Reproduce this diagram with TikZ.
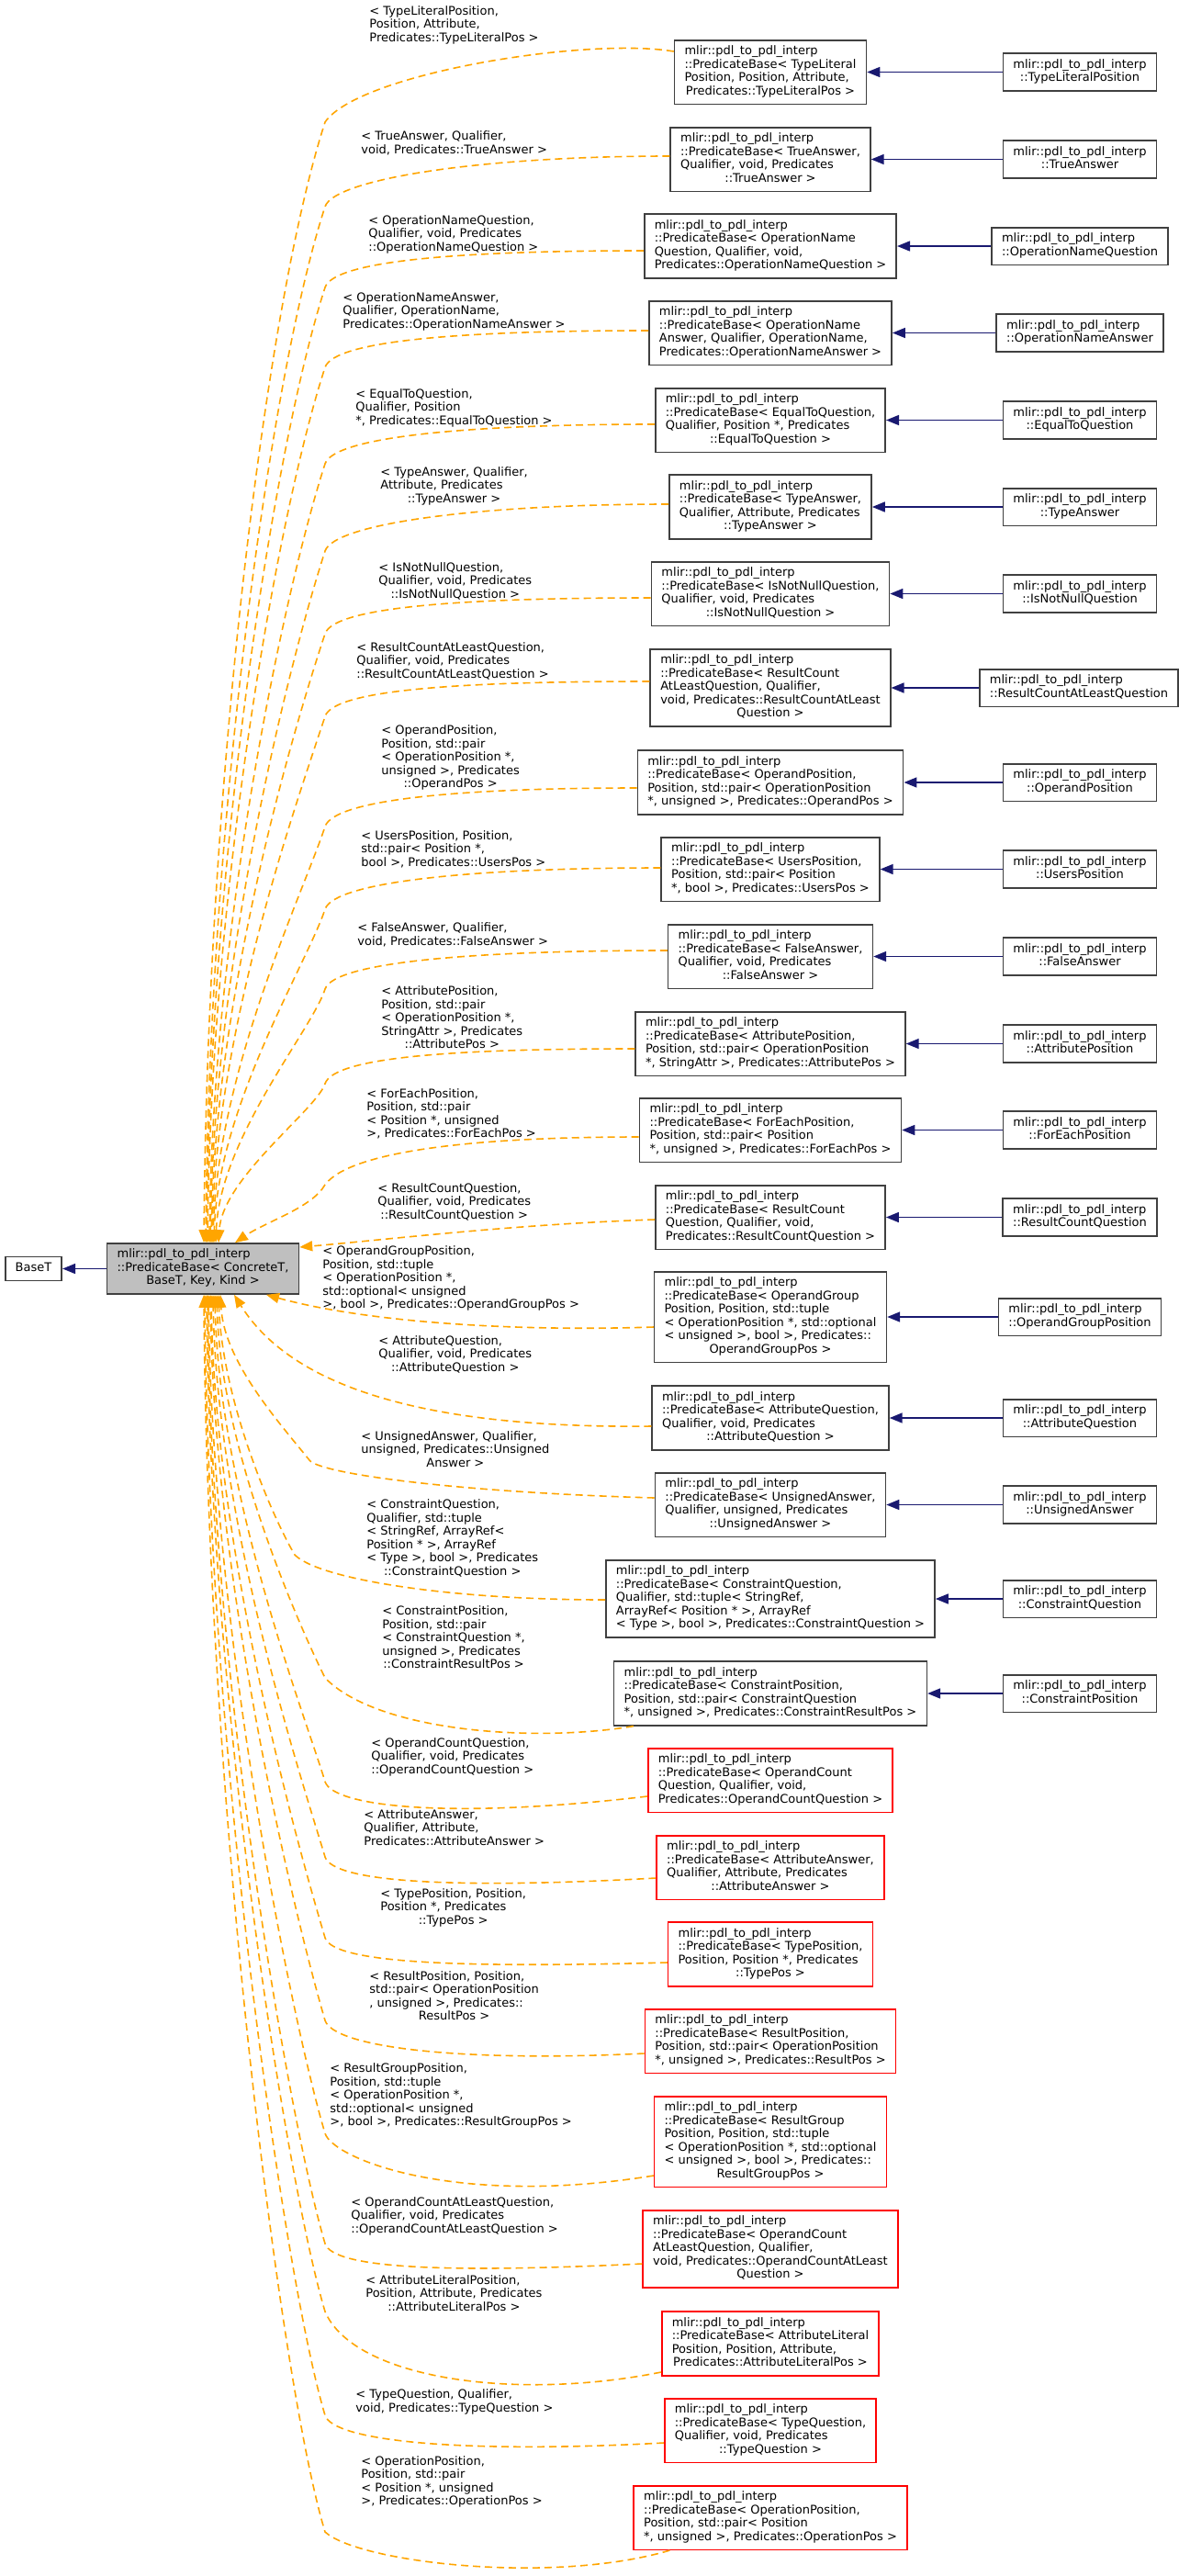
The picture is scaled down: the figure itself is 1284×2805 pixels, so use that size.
\documentclass[tikz,border=0pt]{standalone}
\usepackage{fontspec}
\setmainfont{DejaVu Sans}
\usetikzlibrary{arrows.meta,calc}
\definecolor{inhnavy}{HTML}{191970}
\definecolor{tmplorange}{HTML}{FFA500}
\definecolor{boxgray}{HTML}{404040}
\definecolor{mainfill}{HTML}{BFBFBF}
\definecolor{truncred}{HTML}{FF0000}
\newcommand{\tpl}[2]{\begin{tabular}{@{}l@{}}#1\\\multicolumn{1}{@{}c@{}}{#2}\end{tabular}}
\newcommand{\ns}{mlir::pdl\_to\_pdl\_interp}

\begin{document}
\begin{tikzpicture}[
  x=0.5pt, y=-0.5pt,
  every node/.style={font=\fontsize{6.5}{7.25}\selectfont},
  cbox/.style={draw=boxgray, line width=0.8pt, fill=white, inner xsep=5.5pt, inner ysep=2.9pt},
  rbox/.style={cbox, draw=truncred},
  mbox/.style={cbox, fill=mainfill},
  elbl/.style={anchor=west, inner sep=0pt},
  inh/.style={inhnavy, line width=0.8pt, -{Triangle[length=7pt,width=5.5pt]}},
  tmpl/.style={tmplorange, line width=0.8pt, dash pattern=on 4pt off 2.5pt, -{Triangle[length=7pt,width=5.5pt]}}
]
\useasboundingbox (0,0) rectangle (1284,2805);

% Base class and the class template
\node[cbox] (baset) at (36.5,1381.5) {\begin{tabular}{@{}c@{}}BaseT\end{tabular}};
\node[mbox] (main) at (221,1381.5) {\tpl{\ns\\::PredicateBase< ConcreteT,}{BaseT, Key, Kind >}};
\draw[inh] (main) -- (baset);

% Instantiations with a derived class
\node[cbox] (r1) at (839,78.5) {\tpl{\ns\\::PredicateBase< TypeLiteral\\Position, Position, Attribute,}{Predicates::TypeLiteralPos >}};
\node[cbox] (r2) at (839,173.5) {\tpl{\ns\\::PredicateBase< TrueAnswer,\\Qualifier, void, Predicates}{::TrueAnswer >}};
\node[cbox] (r3) at (839,268) {\tpl{\ns\\::PredicateBase< OperationName\\Question, Qualifier, void,}{Predicates::OperationNameQuestion >}};
\node[cbox] (r4) at (839,362.5) {\tpl{\ns\\::PredicateBase< OperationName\\Answer, Qualifier, OperationName,}{Predicates::OperationNameAnswer >}};
\node[cbox] (r5) at (839,457.5) {\tpl{\ns\\::PredicateBase< EqualToQuestion,\\Qualifier, Position *, Predicates}{::EqualToQuestion >}};
\node[cbox] (r6) at (839,552) {\tpl{\ns\\::PredicateBase< TypeAnswer,\\Qualifier, Attribute, Predicates}{::TypeAnswer >}};
\node[cbox] (r7) at (839,646.5) {\tpl{\ns\\::PredicateBase< IsNotNullQuestion,\\Qualifier, void, Predicates}{::IsNotNullQuestion >}};
\node[cbox] (r8) at (839,749) {\tpl{\ns\\::PredicateBase< ResultCount\\AtLeastQuestion, Qualifier,\\void, Predicates::ResultCountAtLeast}{Question >}};
\node[cbox] (r9) at (839,852) {\tpl{\ns\\::PredicateBase< OperandPosition,\\Position, std::pair< OperationPosition}{*, unsigned >, Predicates::OperandPos >}};
\node[cbox] (r10) at (839,946.5) {\tpl{\ns\\::PredicateBase< UsersPosition,\\Position, std::pair< Position}{*, bool >, Predicates::UsersPos >}};
\node[cbox] (r11) at (839,1041.5) {\tpl{\ns\\::PredicateBase< FalseAnswer,\\Qualifier, void, Predicates}{::FalseAnswer >}};
\node[cbox] (r12) at (839,1136.5) {\tpl{\ns\\::PredicateBase< AttributePosition,\\Position, std::pair< OperationPosition}{*, StringAttr >, Predicates::AttributePos >}};
\node[cbox] (r13) at (839,1230.5) {\tpl{\ns\\::PredicateBase< ForEachPosition,\\Position, std::pair< Position}{*, unsigned >, Predicates::ForEachPos >}};
\node[cbox] (r14) at (839,1325.5) {\tpl{\ns\\::PredicateBase< ResultCount\\Question, Qualifier, void,}{Predicates::ResultCountQuestion >}};
\node[cbox] (r15) at (839,1434) {\tpl{\ns\\::PredicateBase< OperandGroup\\Position, Position, std::tuple\\< OperationPosition *, std::optional\\< unsigned >, bool >, Predicates::}{OperandGroupPos >}};
\node[cbox] (r16) at (839,1544) {\tpl{\ns\\::PredicateBase< AttributeQuestion,\\Qualifier, void, Predicates}{::AttributeQuestion >}};
\node[cbox] (r17) at (839,1638.5) {\tpl{\ns\\::PredicateBase< UnsignedAnswer,\\Qualifier, unsigned, Predicates}{::UnsignedAnswer >}};
\node[cbox] (r18) at (839,1741) {\tpl{\ns\\::PredicateBase< ConstraintQuestion,\\Qualifier, std::tuple< StringRef,\\ArrayRef< Position * >, ArrayRef}{< Type >, bool >, Predicates::ConstraintQuestion >}};
\node[cbox] (r19) at (839,1844) {\tpl{\ns\\::PredicateBase< ConstraintPosition,\\Position, std::pair< ConstraintQuestion}{*, unsigned >, Predicates::ConstraintResultPos >}};

% Instantiations shown without their derived classes
\node[rbox] (r20) at (839,1938.5) {\tpl{\ns\\::PredicateBase< OperandCount\\Question, Qualifier, void,}{Predicates::OperandCountQuestion >}};
\node[rbox] (r21) at (839,2033.5) {\tpl{\ns\\::PredicateBase< AttributeAnswer,\\Qualifier, Attribute, Predicates}{::AttributeAnswer >}};
\node[rbox] (r22) at (839,2128) {\tpl{\ns\\::PredicateBase< TypePosition,\\Position, Position *, Predicates}{::TypePos >}};
\node[rbox] (r23) at (839,2222.5) {\tpl{\ns\\::PredicateBase< ResultPosition,\\Position, std::pair< OperationPosition}{*, unsigned >, Predicates::ResultPos >}};
\node[rbox] (r24) at (839,2332) {\tpl{\ns\\::PredicateBase< ResultGroup\\Position, Position, std::tuple\\< OperationPosition *, std::optional\\< unsigned >, bool >, Predicates::}{ResultGroupPos >}};
\node[rbox] (r25) at (839,2449) {\tpl{\ns\\::PredicateBase< OperandCount\\AtLeastQuestion, Qualifier,\\void, Predicates::OperandCountAtLeast}{Question >}};
\node[rbox] (r26) at (839,2552) {\tpl{\ns\\::PredicateBase< AttributeLiteral\\Position, Position, Attribute,}{Predicates::AttributeLiteralPos >}};
\node[rbox] (r27) at (839,2646.5) {\tpl{\ns\\::PredicateBase< TypeQuestion,\\Qualifier, void, Predicates}{::TypeQuestion >}};
\node[rbox] (r28) at (839,2741.5) {\tpl{\ns\\::PredicateBase< OperationPosition,\\Position, std::pair< Position}{*, unsigned >, Predicates::OperationPos >}};

% Derived classes
\node[cbox] (c1) at (1176,78.5) {\tpl{\ns}{::TypeLiteralPosition}};
\node[cbox] (c2) at (1176,173.5) {\tpl{\ns}{::TrueAnswer}};
\node[cbox] (c3) at (1176,268) {\tpl{\ns}{::OperationNameQuestion}};
\node[cbox] (c4) at (1176,362.5) {\tpl{\ns}{::OperationNameAnswer}};
\node[cbox] (c5) at (1176,457.5) {\tpl{\ns}{::EqualToQuestion}};
\node[cbox] (c6) at (1176,552) {\tpl{\ns}{::TypeAnswer}};
\node[cbox] (c7) at (1176,646.5) {\tpl{\ns}{::IsNotNullQuestion}};
\node[cbox] (c8) at (1175,749) {\tpl{\ns}{::ResultCountAtLeastQuestion}};
\node[cbox] (c9) at (1176,852) {\tpl{\ns}{::OperandPosition}};
\node[cbox] (c10) at (1176,946.5) {\tpl{\ns}{::UsersPosition}};
\node[cbox] (c11) at (1176,1041.5) {\tpl{\ns}{::FalseAnswer}};
\node[cbox] (c12) at (1176,1136.5) {\tpl{\ns}{::AttributePosition}};
\node[cbox] (c13) at (1176,1230.5) {\tpl{\ns}{::ForEachPosition}};
\node[cbox] (c14) at (1176,1325.5) {\tpl{\ns}{::ResultCountQuestion}};
\node[cbox] (c15) at (1176,1434) {\tpl{\ns}{::OperandGroupPosition}};
\node[cbox] (c16) at (1176,1544) {\tpl{\ns}{::AttributeQuestion}};
\node[cbox] (c17) at (1176,1638.5) {\tpl{\ns}{::UnsignedAnswer}};
\node[cbox] (c18) at (1176,1741) {\tpl{\ns}{::ConstraintQuestion}};
\node[cbox] (c19) at (1176,1844) {\tpl{\ns}{::ConstraintPosition}};
\draw[inh] (c1) -- (r1); \draw[inh] (c2) -- (r2); \draw[inh] (c3) -- (r3);
\draw[inh] (c4) -- (r4); \draw[inh] (c5) -- (r5); \draw[inh] (c6) -- (r6);
\draw[inh] (c7) -- (r7); \draw[inh] (c8) -- (r8); \draw[inh] (c9) -- (r9);
\draw[inh] (c10) -- (r10); \draw[inh] (c11) -- (r11); \draw[inh] (c12) -- (r12);
\draw[inh] (c13) -- (r13); \draw[inh] (c14) -- (r14); \draw[inh] (c15) -- (r15);
\draw[inh] (c16) -- (r16); \draw[inh] (c17) -- (r17); \draw[inh] (c18) -- (r18);
\draw[inh] (c19) -- (r19);

% Template edges into the top of the class template
\draw[tmpl] ($(r1.west)+(0,-22.5)$) .. controls (640,40) and (390,80) .. (354,133) .. controls (290,330) and (226,850) .. ($(main.north)+(1,0)$);
\draw[tmpl] ($(r2.west)+(0,-3.5)$) .. controls (523,170) and (364,195) .. (354,225) .. controls (295,406) and (228,891) .. ($(main.north)+(3,0)$);
\draw[tmpl] ($(r3.west)+(0,5)$) .. controls (509,273) and (364,283) .. (354,313) .. controls (300,480) and (229,927) .. ($(main.north)+(4,0)$);
\draw[tmpl] ($(r4.west)+(0,-2.5)$) .. controls (511,360) and (364,370) .. (354,400) .. controls (304,553) and (230,963) .. ($(main.north)+(5,0)$);
\draw[tmpl] ($(r5.west)+(0,4.5)$) .. controls (516,462) and (364,475) .. (354,505) .. controls (310,641) and (232,1006) .. ($(main.north)+(7,0)$);
\draw[tmpl] ($(r6.west)+(0,-3)$) .. controls (522,549) and (364,570) .. (354,600) .. controls (315,721) and (233,1045) .. ($(main.north)+(8,0)$);
\draw[tmpl] ($(r7.west)+(0,4.5)$) .. controls (514,651) and (364,660) .. (354,690) .. controls (319,796) and (234,1082) .. ($(main.north)+(9,0)$);
\draw[tmpl] ($(r8.west)+(0,-7)$) .. controls (512,742) and (364,750) .. (354,780) .. controls (324,872) and (235,1119) .. ($(main.north)+(10,0)$);
\draw[tmpl] ($(r9.west)+(0,6)$) .. controls (506,858) and (364,870) .. (354,900) .. controls (330,973) and (236,1168) .. ($(main.north)+(11,0)$);
\draw[tmpl] ($(r10.west)+(0,-1.5)$) .. controls (517,945) and (364,960) .. (354,990) .. controls (335,1048) and (237,1205) .. ($(main.north)+(12,0)$);
\draw[tmpl] ($(r11.west)+(0,-6.5)$) .. controls (522,1035) and (364,1047) .. (354,1077) .. controls (340,1121) and (239,1240) .. ($(main.north)+(14,0)$);
\draw[tmpl] ($(r12.west)+(0,5.5)$) .. controls (505,1142) and (364,1150) .. (354,1180) .. controls (345,1208) and (242,1283) .. ($(main.north)+(17,0)$);
\draw[tmpl] ($(r13.west)+(0,7.5)$) .. controls (507,1238) and (380,1255) .. (354,1290) .. controls (340,1315) and (290,1330) .. ($(main.north)+(35,0)$);
% side and lower right
\draw[tmpl] ($(r14.west)+(0,2.5)$) .. controls (560,1333) and (420,1350) .. ($(main.east)+(0,-23.5)$);
\draw[tmpl] ($(r15.west)+(0,11)$) .. controls (560,1450) and (400,1440) .. ($(main.south)+(69,0)$);
\draw[tmpl] ($(r16.west)+(0,9)$) .. controls (520,1555) and (330,1530) .. ($(main.south)+(34,0)$);
% Template edges into the bottom
\draw[tmpl] ($(r17.west)+(0,-7.5)$) .. controls (500,1625) and (349,1605) .. (337,1590) .. controls (305,1550) and (244,1483) .. ($(main.south)+(19,0)$);
\draw[tmpl] ($(r18.west)+(0,1)$) .. controls (480,1742) and (345,1718) .. (321,1693) .. controls (297,1653) and (242,1525) .. ($(main.south)+(17,0)$);
\draw[tmpl] ($(r19.south west)+(22,0)$) .. controls (580,1898) and (410,1885) .. (354,1827) .. controls (329,1777) and (240,1580) .. ($(main.south)+(15,0)$);
\draw[tmpl] ($(r20.west)+(0,17.5)$) .. controls (494,1981) and (363,1968) .. (354,1940) .. controls (335,1876) and (238,1627) .. ($(main.south)+(13,0)$);
\draw[tmpl] ($(r21.west)+(0,11.5)$) .. controls (498,2057) and (363,2050) .. (354,2022) .. controls (332,1948) and (236,1660) .. ($(main.south)+(11,0)$);
\draw[tmpl] ($(r22.west)+(0,9)$) .. controls (502,2143) and (363,2138) .. (354,2110) .. controls (329,2026) and (234,1696) .. ($(main.south)+(9,0)$);
\draw[tmpl] ($(r23.west)+(0,13.5)$) .. controls (492,2246) and (363,2228) .. (354,2200) .. controls (326,2105) and (233,1733) .. ($(main.south)+(8,0)$);
\draw[tmpl] ($(r24.west)+(0,37)$) .. controls (497,2404) and (363,2351) .. (354,2323) .. controls (321,2213) and (231,1784) .. ($(main.south)+(6,0)$);
\draw[tmpl] ($(r25.west)+(0,16)$) .. controls (492,2475) and (363,2471) .. (354,2443) .. controls (317,2319) and (230,1833) .. ($(main.south)+(5,0)$);
\draw[tmpl] ($(r26.west)+(0,31)$) .. controls (560,2615) and (385,2590) .. (354,2517) .. controls (314,2384) and (229,1863) .. ($(main.south)+(4,0)$);
\draw[tmpl] ($(r27.west)+(0,13.5)$) .. controls (502,2672) and (363,2658) .. (354,2630) .. controls (310,2483) and (227,1909) .. ($(main.south)+(2,0)$);
\draw[tmpl] ($(r28.south west)+(40,0)$) .. controls (600,2815) and (390,2790) .. (354,2757) .. controls (305,2595) and (226,1962) .. ($(main.south)+(1,0)$);

% Edge labels
\node[elbl] (l1) at (402,28) {\tpl{< TypeLiteralPosition,\\Position, Attribute,}{Predicates::TypeLiteralPos >}};
\node[elbl] (l2) at (393,157) {\tpl{< TrueAnswer, Qualifier,}{void, Predicates::TrueAnswer >}};
\node[elbl] (l3) at (401,256) {\tpl{< OperationNameQuestion,\\Qualifier, void, Predicates}{::OperationNameQuestion >}};
\node[elbl] (l4) at (373,340) {\tpl{< OperationNameAnswer,\\Qualifier, OperationName,}{Predicates::OperationNameAnswer >}};
\node[elbl] (l5) at (387,445) {\tpl{< EqualToQuestion,\\Qualifier, Position}{*, Predicates::EqualToQuestion >}};
\node[elbl] (l6) at (414,530) {\tpl{< TypeAnswer, Qualifier,\\Attribute, Predicates}{::TypeAnswer >}};
\node[elbl] (l7) at (412,634) {\tpl{< IsNotNullQuestion,\\Qualifier, void, Predicates}{::IsNotNullQuestion >}};
\node[elbl] (l8) at (388,721) {\tpl{< ResultCountAtLeastQuestion,\\Qualifier, void, Predicates}{::ResultCountAtLeastQuestion >}};
\node[elbl] (l9) at (415,826) {\tpl{< OperandPosition,\\Position, std::pair\\< OperationPosition *,\\unsigned >, Predicates}{::OperandPos >}};
\node[elbl] (l10) at (393,926) {\tpl{< UsersPosition, Position,\\std::pair< Position *,}{bool >, Predicates::UsersPos >}};
\node[elbl] (l11) at (389,1019) {\tpl{< FalseAnswer, Qualifier,}{void, Predicates::FalseAnswer >}};
\node[elbl] (l12) at (415,1110) {\tpl{< AttributePosition,\\Position, std::pair\\< OperationPosition *,\\StringAttr >, Predicates}{::AttributePos >}};
\node[elbl] (l13) at (399,1214) {\tpl{< ForEachPosition,\\Position, std::pair\\< Position *, unsigned}{>, Predicates::ForEachPos >}};
\node[elbl] (l14) at (411,1310) {\tpl{< ResultCountQuestion,\\Qualifier, void, Predicates}{::ResultCountQuestion >}};
\node[elbl] (l15) at (351,1393) {\tpl{< OperandGroupPosition,\\Position, std::tuple\\< OperationPosition *,\\std::optional< unsigned}{>, bool >, Predicates::OperandGroupPos >}};
\node[elbl] (l16) at (412,1476) {\tpl{< AttributeQuestion,\\Qualifier, void, Predicates}{::AttributeQuestion >}};
\node[elbl] (l17) at (393,1580) {\tpl{< UnsignedAnswer, Qualifier,\\unsigned, Predicates::Unsigned}{Answer >}};
\node[elbl] (l18) at (399,1676) {\tpl{< ConstraintQuestion,\\Qualifier, std::tuple\\< StringRef, ArrayRef<\\Position * >, ArrayRef\\< Type >, bool >, Predicates}{::ConstraintQuestion >}};
\node[elbl] (l19) at (416,1785) {\tpl{< ConstraintPosition,\\Position, std::pair\\< ConstraintQuestion *,\\unsigned >, Predicates}{::ConstraintResultPos >}};
\node[elbl] (l20) at (404,1914) {\tpl{< OperandCountQuestion,\\Qualifier, void, Predicates}{::OperandCountQuestion >}};
\node[elbl] (l21) at (396,1992) {\tpl{< AttributeAnswer,\\Qualifier, Attribute,}{Predicates::AttributeAnswer >}};
\node[elbl] (l22) at (414,2078) {\tpl{< TypePosition, Position,\\Position *, Predicates}{::TypePos >}};
\node[elbl] (l23) at (402,2175) {\tpl{< ResultPosition, Position,\\std::pair< OperationPosition\\*, unsigned >, Predicates::}{ResultPos >}};
\node[elbl] (l24) at (359,2283) {\tpl{< ResultGroupPosition,\\Position, std::tuple\\< OperationPosition *,\\std::optional< unsigned}{>, bool >, Predicates::ResultGroupPos >}};
\node[elbl] (l25) at (382,2414) {\tpl{< OperandCountAtLeastQuestion,\\Qualifier, void, Predicates}{::OperandCountAtLeastQuestion >}};
\node[elbl] (l26) at (398,2499) {\tpl{< AttributeLiteralPosition,\\Position, Attribute, Predicates}{::AttributeLiteralPos >}};
\node[elbl] (l27) at (387,2616) {\tpl{< TypeQuestion, Qualifier,}{void, Predicates::TypeQuestion >}};
\node[elbl] (l28) at (393,2703) {\tpl{< OperationPosition,\\Position, std::pair\\< Position *, unsigned}{>, Predicates::OperationPos >}};
\end{tikzpicture}
\end{document}
